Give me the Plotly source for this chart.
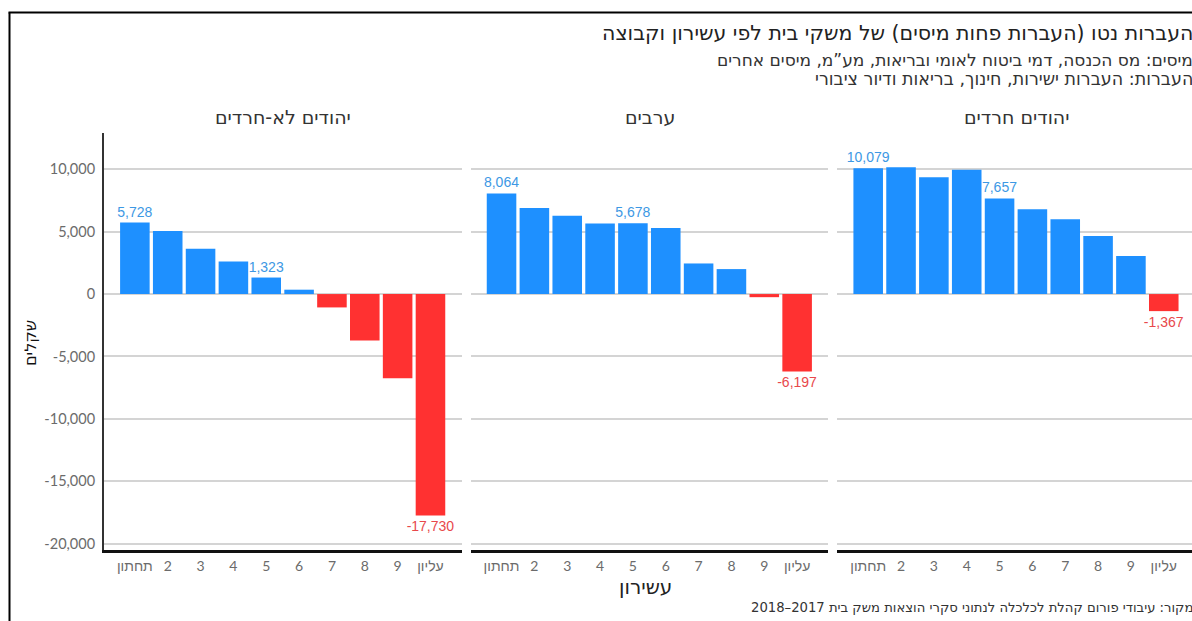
import plotly.graph_objects as go

# ---------------- data ----------------
deciles = ["תחתון", "2", "3", "4", "5", "6", "7", "8", "9", "עליון"]
group_titles = ["יהודים לא-חרדים", "ערבים", "יהודים חרדים"]
non_haredi_jews = [5728, 5050, 3620, 2610, 1323, 350, -1070, -3710, -6750, -17730]
arabs = [8064, 6900, 6280, 5660, 5678, 5290, 2450, 2000, -250, -6197]
haredi_jews = [10079, 10150, 9350, 9950, 7657, 6800, 6000, 4650, 3050, -1367]
labelled_deciles = [0, 4, 9]
y_tickvals = [10000, 5000, 0, -5000, -10000, -15000, -20000]
y_ticktext = ["10,000", "5,000", "0", "-5,000", "-10,000", "-15,000", "-20,000"]

title_text = "העברות נטו (העברות פחות מיסים) של משקי בית לפי עשירון וקבוצה"
subtitle_taxes = "מיסים: מס הכנסה, דמי ביטוח לאומי ובריאות, מע”מ, מיסים אחרים"
subtitle_transfers = "העברות: העברות ישירות, חינוך, בריאות ודיור ציבורי"
source_text = "מקור: עיבודי פורום קהלת לכלכלה לנתוני סקרי הוצאות משק בית 2017–2018"
x_title = "עשירון"
y_title = "שקלים"

# ---------------- layout helpers ----------------
W, H = 1192, 621
MT, MB = 133, 71
PH = H - MT - MB
BOTTOM = H - MB


def px(x):
    return x / W


def py(y):
    return (BOTTOM - y) / PH


BLUE, RED = "#1e90ff", "#ff3131"
BLUE_TXT, RED_TXT = "#3d98e4", "#e8484b"
HEB = "DejaVu Sans, Liberation Sans, sans-serif"
NUM = "Liberation Sans, Arial, sans-serif"
TICKF = "Lato, Liberation Sans, sans-serif"

panels = [
    (non_haredi_jews, (104, 462), (-0.94, 9.96)),
    (arabs, (471, 828), (-0.93, 9.94)),
    (haredi_jews, (837, 1192), (-0.95, 9.86)),
]

fig = go.Figure()
layout = {}
for i, (vals, (x0, x1), xr) in enumerate(panels):
    n = "" if i == 0 else str(i + 1)
    colors = [BLUE if v >= 0 else RED for v in vals]
    tcolors = [BLUE_TXT if v >= 0 else RED_TXT for v in vals]
    texts = [f"{v:,}" if k in labelled_deciles else "" for k, v in enumerate(vals)]
    fig.add_trace(go.Bar(
        x=deciles, y=vals, xaxis="x" + n, yaxis="y" + n,
        marker=dict(color=colors, line=dict(width=0)),
        text=texts, textposition="outside", constraintext="none",
        textfont=dict(color=tcolors, size=14, family=NUM),
        cliponaxis=False, hoverinfo="skip", showlegend=False,
    ))
    layout["xaxis" + n] = dict(
        domain=[px(x0), px(x1)], anchor="y" + n, type="category",
        range=list(xr), showgrid=False, zeroline=False,
        showline=True, linecolor="#111", linewidth=2.5,
        ticks="", ticklabelstandoff=1,
        tickfont=dict(family=TICKF, size=14, color="#6b6b6b"),
        fixedrange=True,
    )
    layout["yaxis" + n] = dict(
        domain=[0, 1], anchor="x" + n, range=[-20500, 12900],
        tickvals=y_tickvals, ticktext=y_ticktext,
        showticklabels=(i == 0), showgrid=True, gridcolor="#d4d4d4", gridwidth=1.5,
        zeroline=False, showline=(i == 0), linecolor="#333", linewidth=2,
        ticks="", ticklabelstandoff=4,
        tickfont=dict(family=TICKF, size=14.5, color="#6b6b6b"),
        fixedrange=True,
    )

annotations = []
panel_centers = [283, 650, 1016]
for t, cx in zip(group_titles, panel_centers):
    annotations.append(dict(text=t, x=px(cx), y=py(117), xref="paper", yref="paper",
                            xanchor="center", yanchor="middle", showarrow=False,
                            font=dict(family=HEB, size=19, color="#333")))

annotations += [
    dict(text=title_text, x=px(1195), y=py(33), xanchor="right", yanchor="middle",
         font=dict(family=HEB, size=20.5, color="#222")),
    dict(text=subtitle_taxes, x=px(1195), y=py(60), xanchor="right", yanchor="middle",
         font=dict(family=HEB, size=17, color="#333")),
    dict(text=subtitle_transfers, x=px(1195), y=py(79), xanchor="right", yanchor="middle",
         font=dict(family=HEB, size=17.5, color="#333")),
    dict(text=source_text, x=px(1195), y=py(607), xanchor="right", yanchor="middle",
         font=dict(family=HEB, size=13.2, color="#333")),
    dict(text=x_title, x=px(645), y=py(587), xanchor="center", yanchor="middle",
         font=dict(family=HEB, size=20, color="#222")),
    dict(text=y_title, x=px(30), y=py(343), xanchor="center", yanchor="middle",
         textangle=-90, font=dict(family=HEB, size=16, color="#111")),
]
for a in annotations:
    a.setdefault("xref", "paper")
    a.setdefault("yref", "paper")
    a.setdefault("showarrow", False)

shapes = [
    dict(type="line", xref="paper", yref="paper", x0=px(9.5), x1=px(9.5),
         y0=py(12.5), y1=py(640), line=dict(color="#000", width=2)),
    dict(type="line", xref="paper", yref="paper", x0=px(8.5), x1=px(1200),
         y0=py(12.5), y1=py(12.5), line=dict(color="#000", width=2)),
]

fig.update_layout(
    width=W, height=H,
    margin=dict(l=0, r=0, t=MT, b=MB, pad=0),
    paper_bgcolor="white", plot_bgcolor="white",
    bargap=0.1, annotations=annotations, shapes=shapes,
    font=dict(family=HEB),
    **layout,
)

fig.write_html(
    "out.html",
    config={"displayModeBar": False},
    post_script="document.body.style.margin='0';document.body.style.overflow='hidden';",
)
